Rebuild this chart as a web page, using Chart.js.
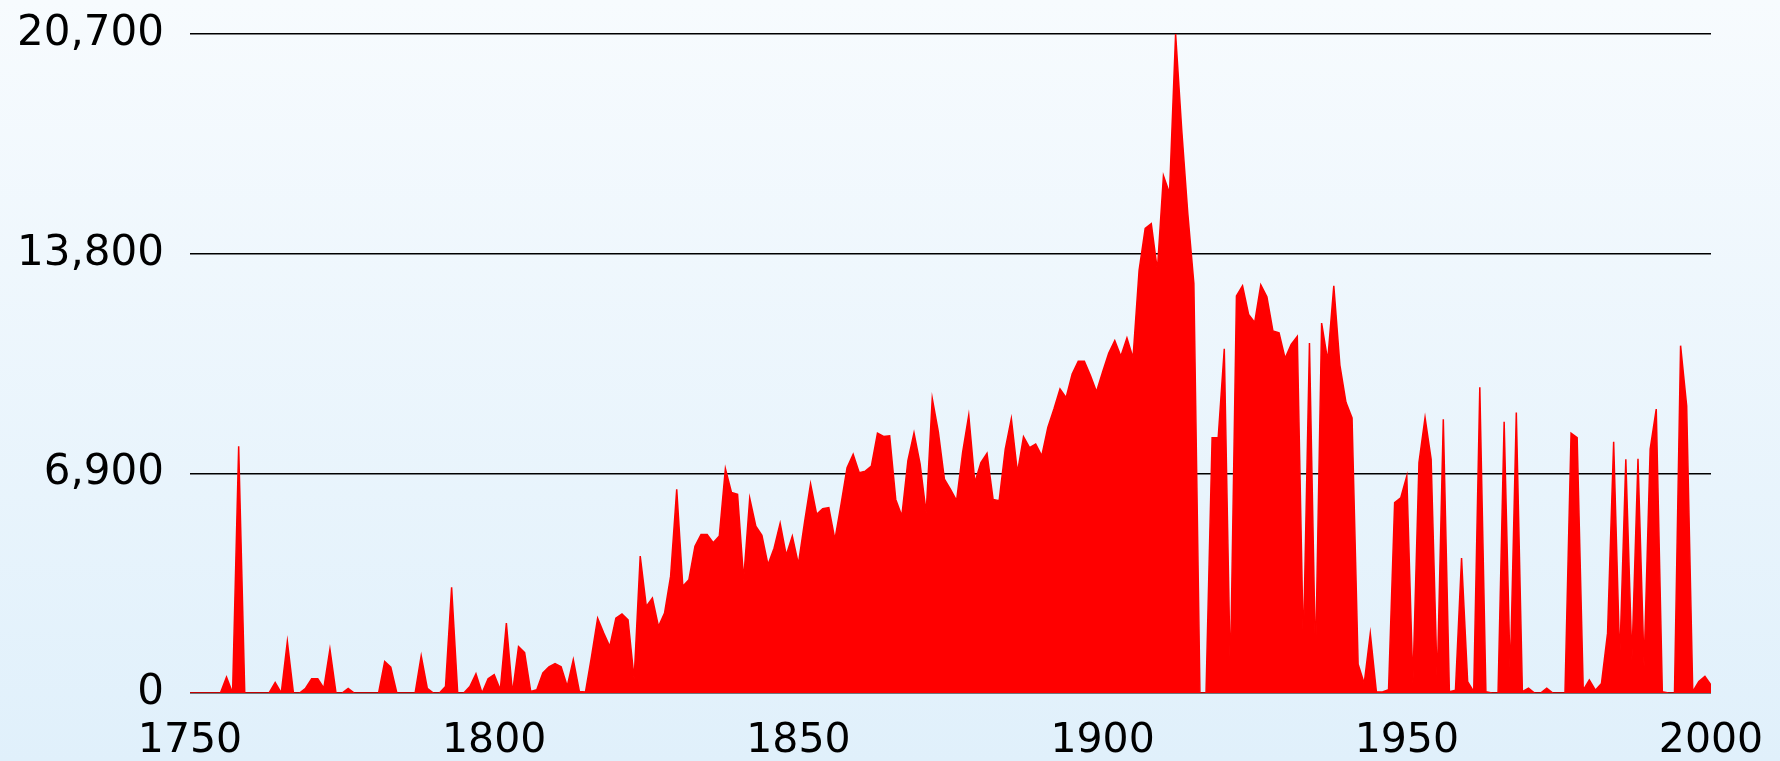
<!DOCTYPE html>
<html>
<head>
<meta charset="utf-8">
<script src="https://cdn.jsdelivr.net/npm/chart.js@4/dist/chart.umd.min.js"></script>
<style>
  html, body { margin: 0; padding: 0; }
  body {
    width: 1780px;
    height: 761px;
    background: linear-gradient(to bottom, #f7fbfe, #e0f0fb);
    overflow: hidden;
  }
  #wrap { position: relative; width: 1780px; height: 761px; }
</style>
</head>
<body>
<div id="wrap"><canvas id="myChart"></canvas></div>
<script>
// years 1750 ~ 2000, one value per year
const startYear = 1750;
const endYear = 2000;

// values, ten per row (one decade per row)
const values = [
    0, 0, 0, 0, 0, 0, 500, 0, 7750, 0,                                 // 1750
    0, 0, 0, 0, 330, 0, 1620, 0, 0, 150,                               // 1760
    450, 450, 150, 1380, 0, 0, 140, 0, 0, 0,                           // 1770
    0, 0, 990, 810, 0, 0, 0, 0, 1170, 150,                             // 1780
    0, 0, 200, 3320, 0, 0, 200, 600, 0, 450,                           // 1790
    580, 100, 2200, 0, 1460, 1270, 50, 100, 630, 820,                  // 1800
    920, 820, 210, 1050, 50, 30, 1150, 2350, 1880, 1460,               // 1810
    2350, 2480, 2300, 440, 4300, 2720, 2980, 2090, 2510, 3670,         // 1820
    6400, 3350, 3560, 4610, 4980, 4980, 4720, 4930, 7050, 6300,        // 1830
    6240, 3560, 6120, 5240, 4950, 4030, 4550, 5330, 4330, 4930,        // 1840
    4050, 5350, 6575, 5610, 5790, 5820, 4820, 5920, 7080, 7500,        // 1850
    6920, 6970, 7130, 8160, 8060, 8080, 6080, 5560, 7300, 8170,        // 1860
    7200, 5660, 9250, 8200, 6720, 6400, 6040, 7570, 8730, 6610,        // 1870
    7240, 7530, 6080, 6040, 7660, 8620, 6920, 8050, 7710, 7820,        // 1880
    7450, 8340, 8920, 9550, 9280, 10020, 10420, 10420, 9970, 9460,     // 1890
    10080, 10670, 11070, 10580, 11150, 10520, 13280, 14590, 14740, 13280, // 1900
    16250, 15700, 20700, 17700, 15070, 12860, 0, 0, 8020, 8020,        // 1910
    10810, 500, 12470, 12790, 11890, 11640, 12820, 12450, 11370, 11310, // 1920
    10510, 10950, 11200, 1380, 10990, 970, 11620, 10440, 12790, 10300, // 1930
    9130, 8640, 900, 300, 1870, 40, 30, 100, 5980, 6130,               // 1940
    6820, 300, 7240, 8650, 7340, 300, 8600, 40, 90, 4240,              // 1950
    360, 40, 9600, 40, 0, 0, 8520, 500, 8810, 40,                      // 1960
    150, 0, 0, 150, 0, 0, 0, 8160, 8020, 90,                           // 1970
    410, 90, 300, 1880, 7890, 1040, 7340, 1040, 7360, 830,             // 1980
    7660, 8920, 40, 0, 0, 10910, 9020, 40, 360, 520,                   // 1990
    250                                                                // 2000
];

// axis ticks
const xTickLabels = [1750, 1800, 1850, 1900, 1950, 2000];
const yTickValues = [0, 6900, 13800, 20700];

// x/y points for the line chart
const points = values.map((v, i) => ({ x: startYear + i, y: v }));

// labels may hang over the plot edges, so the axes ask for no extra room
function noPadding(scale) {
    scale.paddingTop = 0;
    scale.paddingBottom = 0;
    scale.paddingLeft = 0;
    scale.paddingRight = 0;
}

const ctx = document.getElementById("myChart").getContext("2d");

const myChart = new Chart(ctx, {
    type: "line",
    data: {
        datasets: [
            {
                data: points,
                borderColor: "#ff0000",
                backgroundColor: "#ff0000",
                borderWidth: 1.5,
                pointRadius: 0,
                tension: 0,
                fill: "origin",
            },
        ],
    },
    options: {
        responsive: true,
        maintainAspectRatio: false,
        animation: false,
        layout: {
            padding: { top: 34, right: 69, left: 0, bottom: 0 },
        },
        plugins: {
            legend: { display: false },
            tooltip: { enabled: false },
        },
        scales: {
            x: {
                type: "linear",
                min: startYear,
                max: endYear,
                afterBuildTicks: (axis) => {
                    axis.ticks = xTickLabels.map((v) => ({ value: v }));
                },
                ticks: {
                    color: "#000",
                    font: { family: "'DejaVu Sans', sans-serif", size: 41 },
                    padding: 24,
                    maxRotation: 0,
                    autoSkip: false,
                    callback: (v) => String(v),
                },
                grid: { display: false, drawTicks: false },
                border: { display: false },
                afterFit: (scale) => {
                    scale.height = 68;
                    noPadding(scale);
                },
            },
            y: {
                min: 0,
                max: 20700,
                afterBuildTicks: (axis) => {
                    axis.ticks = yTickValues.map((v) => ({ value: v }));
                },
                ticks: {
                    color: "#000",
                    font: { family: "'DejaVu Sans', sans-serif", size: 42 },
                    padding: 26,
                    callback: (v) => v.toLocaleString("en-US"),
                },
                grid: { color: "#000", lineWidth: 1.5, drawTicks: false },
                border: { display: false },
                afterFit: (scale) => {
                    scale.width = 190;
                    noPadding(scale);
                },
            },
        },
    },
});
</script>
</body>
</html>
